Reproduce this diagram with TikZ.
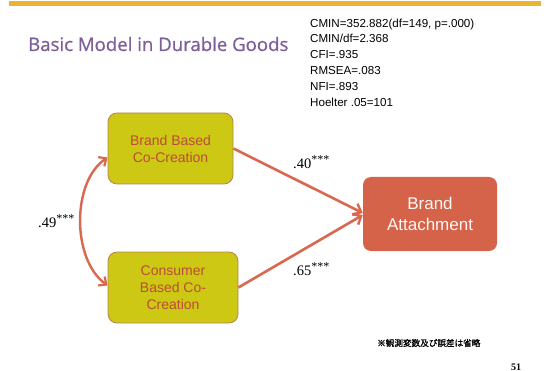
\documentclass[tikz,border=0pt]{standalone}
\usepackage{fontspec}
\setmainfont{Liberation Sans}
\newfontfamily\titlefont[FakeBold=0.7]{Open Sans}
\newfontfamily\serifnum{Liberation Serif}
\newfontfamily\jpfont[FakeBold=1.2]{Noto Sans CJK JP}
\usetikzlibrary{arrows.meta,calc}
\definecolor{barcol}{HTML}{EBB533}
\definecolor{titlecol}{HTML}{7D5F9A}
\definecolor{boxfill}{HTML}{CCC814}
\definecolor{boxline}{HTML}{B9834F}
\definecolor{boxtext}{HTML}{BE4B37}
\definecolor{attfill}{HTML}{D4634A}
\definecolor{arrcol}{HTML}{D9684F}
\tikzset{
  cobox/.style={draw=boxline, line width=0.8pt, fill=boxfill, rounded corners=9pt,
    text=boxtext, align=center, font=\fontsize{14}{17}\selectfont, inner sep=0pt},
  attbox/.style={fill=attfill, rounded corners=8pt, text=white!95!attfill,
    align=center, font=\fontsize{17}{21}\selectfont, inner sep=0pt},
  path/.style={draw=arrcol, line width=2.6pt, -{Straight Barb[length=7pt,width=12pt,line width=2.4pt]}},
  covar/.style={draw=arrcol, line width=2.4pt,
    {Straight Barb[length=6pt,width=11pt,line width=2.2pt]}-{Straight Barb[length=6pt,width=11pt,line width=2.2pt]}},
  coef/.style={font=\serifnum\fontsize{14.5}{16}\selectfont, inner sep=0pt},
  fit/.style={font=\fontsize{11.6}{15.8}\selectfont, align=left, anchor=north west, inner sep=0pt}
}
\newcommand{\stars}{\textsuperscript{\fontsize{12}{12}\selectfont ***}}
\begin{document}
\begin{tikzpicture}[x=1pt, y=-1pt]
  \useasboundingbox[fill=white] (0,0) rectangle (548,371);
  % header bar
  \fill[barcol] (9,1) rectangle (541,6);
  % title and fit indices
  \node[anchor=base west, text=titlecol, font=\titlefont\fontsize{18.6}{22}\selectfont, inner sep=0pt] (title) at (28,51) {Basic Model in Durable Goods};
  \node[fit] (fitidx) at (310,18.5) {CMIN=352.882(df=149, p=.000)\\CMIN/df=2.368\\CFI=.935\\RMSEA=.083\\NFI=.893\\Hoelter .05=101};
  % constructs
  \node[cobox, minimum width=125pt, minimum height=71pt] (bb) at (170.5,148.5) {Brand Based\\Co-Creation};
  \node[cobox, minimum width=130pt, minimum height=71pt] (cb) at (173,287.5) {Consumer\\Based Co-\\Creation};
  \node[attbox, minimum width=134pt, minimum height=74pt] (ba) at (430,214) {Brand\\Attachment};
  % structural paths
  \draw[path] (bb.east) -- ([yshift=1pt]ba.west);
  \draw[path] (cb.east) -- ([yshift=-1pt]ba.west);
  % covariance
  \coordinate (ctop) at ([yshift=-9pt]bb.west);
  \coordinate (cbot) at ([yshift=2pt]cb.west);
  \draw[covar] (ctop) .. controls +(-36,24) and +(-36,-26) .. (cbot);
  % coefficients
  \node[coef, anchor=west] (c49) at (38,221) {.49\stars};
  \node[coef, anchor=west] (c40) at (293,162) {.40\stars};
  \node[coef, anchor=west] (c65) at (293,269) {.65\stars};
  % footnote and page number
  \node[anchor=west, font=\jpfont\fontsize{8.6}{10}\selectfont, inner sep=0pt] (note) at (377,343) {※観測変数及び誤差は省略};
  \node[anchor=west, font=\serifnum\bfseries\fontsize{10}{12}\selectfont, inner sep=0pt] (page) at (511,367) {51};
\end{tikzpicture}
\end{document}
